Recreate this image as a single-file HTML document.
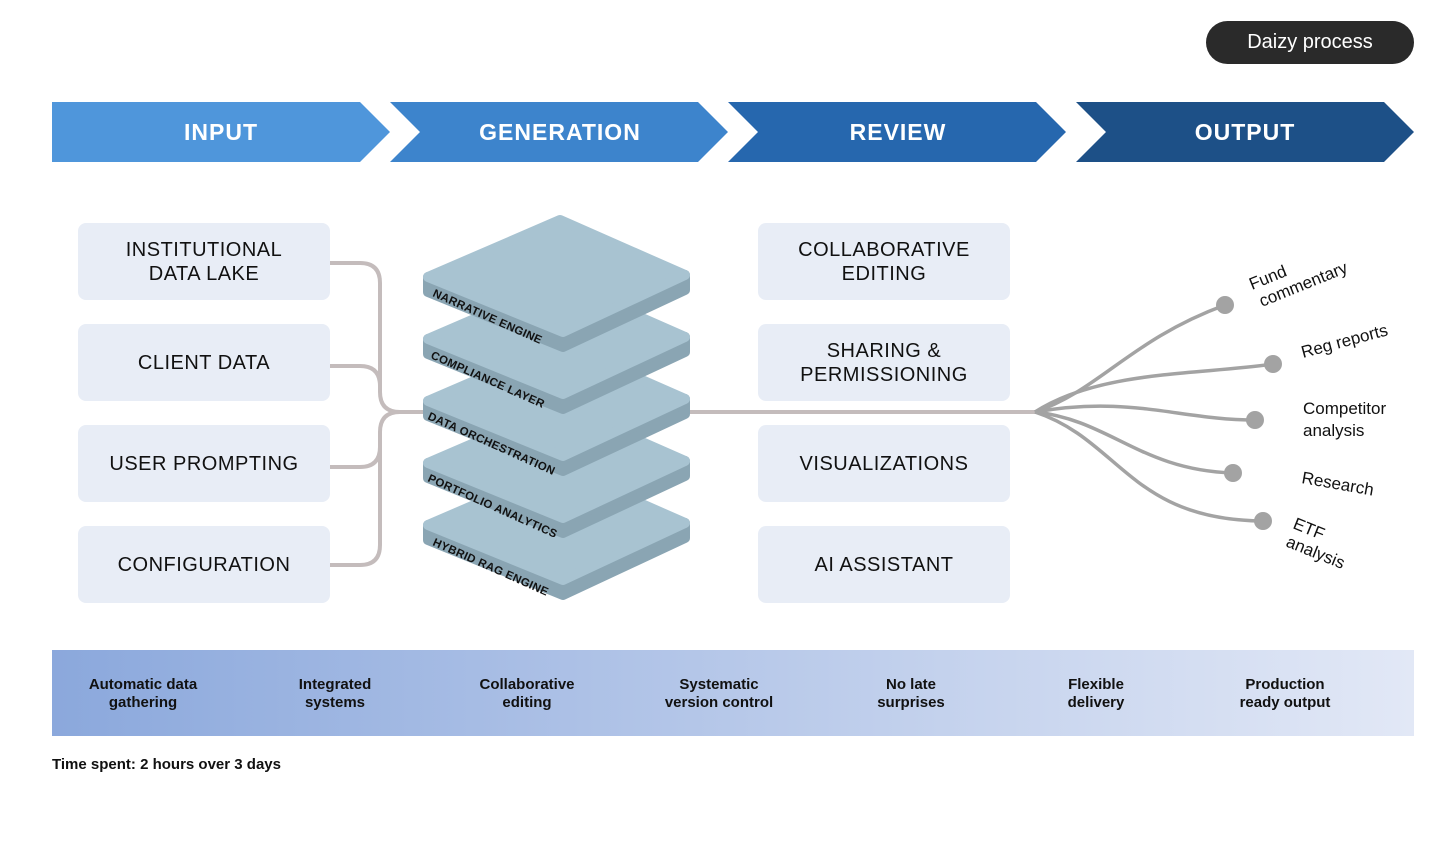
<!DOCTYPE html>
<html><head><meta charset="utf-8"><style>
body{margin:0;width:1440px;height:845px;background:#fff;font-family:"Liberation Sans",sans-serif;overflow:hidden;position:relative}
.box{position:absolute;width:252px;height:77px;background:#e8edf6;border-radius:8px;display:flex;align-items:center;justify-content:center;text-align:center;font-size:20px;line-height:24px;color:#111;letter-spacing:0.5px}
.band{position:absolute;left:52px;top:650px;width:1362px;height:86px;background:linear-gradient(90deg,#8ba8dc,#e2e8f6)}
.bt{position:absolute;top:676px;width:160px;text-align:center;font-weight:bold;font-size:15px;line-height:18px;color:#111}
</style></head><body>
<div style="position:absolute;left:1206px;top:21px;width:208px;height:43px;border-radius:22px;background:#2a2a2a;color:#fff;font-size:20px;line-height:43px;text-align:center">Daizy process</div>
<svg width="1440" height="845" style="position:absolute;left:0;top:0">
<defs>
<g id="lay">
<polygon points="428,277 563,332 685,275 685,290 563,347 428,292" fill="#8aa5b3" stroke="#8aa5b3"/>
<polygon points="428,277 560,220 685,275 563,332" fill="#a8c3d1" stroke="#a8c3d1"/>
</g>
</defs>
<polygon points="52,102 360,102 390,132 360,162 52,162" fill="#4f96db"/>
<polygon points="390,102 698,102 728,132 698,162 390,162 420,132" fill="#3d84cc"/>
<polygon points="728,102 1036,102 1066,132 1036,162 728,162 758,132" fill="#2667ae"/>
<polygon points="1076,102 1384,102 1414,132 1384,162 1076,162 1106,132" fill="#1d5087"/>
<g fill="#fff" font-weight="bold" font-size="23" text-anchor="middle" letter-spacing="1">
<text x="221" y="140">INPUT</text><text x="560" y="140">GENERATION</text><text x="898" y="140">REVIEW</text><text x="1245" y="140">OUTPUT</text></g>
<g fill="none" stroke="#c4bcbc" stroke-width="4">
<path d="M330,263 H360 Q380,263 380,283 V392 Q380,412 400,412 H430"/>
<path d="M330,366 H360 Q380,366 380,386 V392"/>
<path d="M330,467 H360 Q380,467 380,447 V432 Q380,412 400,412"/>
<path d="M330,565 H360 Q380,565 380,545 V432"/>
<path d="M680,412 H1040"/>
</g>
<g fill="none" stroke="#a3a3a3" stroke-width="3.5">
<path d="M1035,412 C1100,390 1130,340 1225,305"/>
<path d="M1035,412 C1100,370 1200,375 1273,364"/>
<path d="M1035,412 C1130,395 1180,420 1255,420"/>
<path d="M1035,412 C1110,420 1140,470 1233,473"/>
<path d="M1035,412 C1120,440 1130,520 1263,521"/>
</g>
<g fill="#a3a3a3"><circle cx="1225" cy="305" r="9"/><circle cx="1273" cy="364" r="9"/><circle cx="1255" cy="420" r="9"/><circle cx="1233" cy="473" r="9"/><circle cx="1263" cy="521" r="9"/></g>
<g font-size="17" fill="#111">
<text transform="translate(1252,290) rotate(-22)">Fund</text>
<text transform="translate(1262,307) rotate(-22)">commentary</text>
<text transform="translate(1303,358) rotate(-15)">Reg reports</text>
<text x="1303" y="414">Competitor</text><text x="1303" y="436">analysis</text>
<text transform="translate(1301,483) rotate(10)">Research</text>
<text transform="translate(1292,528) rotate(22)">ETF</text>
<text transform="translate(1285,546) rotate(22)">analysis</text>
</g>
<g stroke-linejoin="round" stroke-width="10">
<use href="#lay" transform="translate(0,248)"/>
<use href="#lay" transform="translate(0,186)"/>
<use href="#lay" transform="translate(0,124)"/>
<use href="#lay" transform="translate(0,62)"/>
<use href="#lay"/>
</g>
<g font-size="11.5" font-weight="bold" fill="#111" letter-spacing="0.3">
<text transform="translate(432,296) rotate(24)">NARRATIVE ENGINE</text>
<text transform="translate(430,358) rotate(24)">COMPLIANCE LAYER</text>
<text transform="translate(427,419) rotate(24)">DATA ORCHESTRATION</text>
<text transform="translate(427,481) rotate(24)">PORTFOLIO ANALYTICS</text>
<text transform="translate(432,545) rotate(24)">HYBRID RAG ENGINE</text>
</g>
</svg>
<div class="box" style="left:78px;top:223px">INSTITUTIONAL<br>DATA LAKE</div>
<div class="box" style="left:78px;top:324px">CLIENT DATA</div>
<div class="box" style="left:78px;top:425px">USER PROMPTING</div>
<div class="box" style="left:78px;top:526px">CONFIGURATION</div>
<div class="box" style="left:758px;top:223px">COLLABORATIVE<br>EDITING</div>
<div class="box" style="left:758px;top:324px">SHARING &amp;<br>PERMISSIONING</div>
<div class="box" style="left:758px;top:425px">VISUALIZATIONS</div>
<div class="box" style="left:758px;top:526px">AI ASSISTANT</div>
<div class="band"></div>
<div class="bt" style="left:63px">Automatic data<br>gathering</div>
<div class="bt" style="left:255px">Integrated<br>systems</div>
<div class="bt" style="left:447px">Collaborative<br>editing</div>
<div class="bt" style="left:639px">Systematic<br>version control</div>
<div class="bt" style="left:831px">No late<br>surprises</div>
<div class="bt" style="left:1016px">Flexible<br>delivery</div>
<div class="bt" style="left:1205px">Production<br>ready output</div>
<div style="position:absolute;left:52px;top:756px;font-weight:bold;font-size:15px;color:#111">Time spent: 2 hours over 3 days</div>
</body></html>
